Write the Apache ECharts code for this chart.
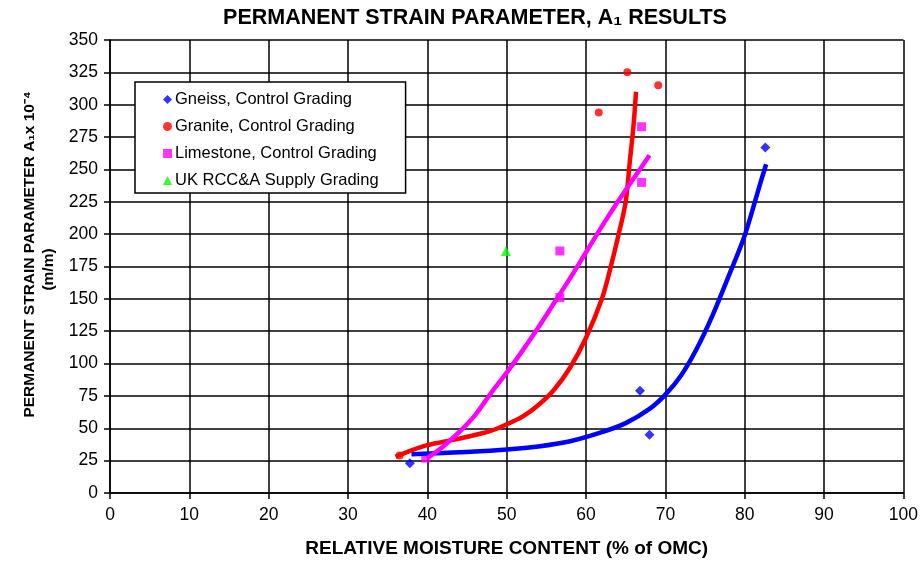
<!DOCTYPE html>
<html>
<head>
<meta charset="utf-8">
<script src="https://cdn.jsdelivr.net/npm/echarts@6/dist/echarts.min.js"></script>
<style>
html,body{margin:0;padding:0;background:#fff;}
#chart{width:921px;height:563px;}
</style>
</head>
<body>
<div id="chart"></div>
<script>
// ---- data ----
const seriesNames = ['Gneiss, Control Grading', 'Granite, Control Grading', 'Limestone, Control Grading', 'UK RCC&A Supply Grading'];

const gneissPoints = [[37.8, 23], [66.8, 79], [68.0, 45], [82.6, 267]];
const granitePoints = [[36.5, 29], [61.6, 294], [65.2, 325], [69.1, 315]];
const limestonePoints = [[39.8, 27], [56.7, 187], [56.7, 151], [67.0, 283], [67.0, 240]];
const ukPoints = [[49.9, 187]];

const gneissTrendX = [38, 42, 46, 50, 54, 58, 62, 65, 68, 70, 72, 74, 76, 78, 80, 82, 82.7];
const gneissTrendY = [30, 31, 32, 33.7, 36, 40, 47, 54, 65, 76, 91, 112, 138, 168, 199, 240, 254];

const graniteTrendX = [36, 38, 40, 44, 48, 50, 52, 54, 56, 58, 60, 62, 63, 64, 65, 65.5, 66, 66.3];
const graniteTrendY = [28, 33, 37, 42, 48, 53, 59, 68, 80, 97, 120, 150, 172, 197, 225, 255, 285, 310];

const limestoneTrendX = [40, 42, 44, 46, 48, 50, 52, 54, 56, 58, 60, 62, 64, 66, 68];
const limestoneTrendY = [27, 36, 47, 60, 77, 93, 110, 128, 147, 166, 186, 206, 225, 243, 261];

const xTicks = [0, 10, 20, 30, 40, 50, 60, 70, 80, 90, 100];
const yTicks = [0, 25, 50, 75, 100, 125, 150, 175, 200, 225, 250, 275, 300, 325, 350];

const colors = ['#0000ff', '#ff0000', '#ff00ff', '#00ff00'];

function zip(xs, ys) { return xs.map((x, i) => [x, ys[i]]); }

const chart = echarts.init(document.getElementById('chart'), null, {renderer: 'canvas'});
const font = "'Liberation Sans', Arial, sans-serif";

const option = {
  backgroundColor: '#fff',
  animation: false,
  textStyle: {fontFamily: font},
  title: {
    text: 'PERMANENT STRAIN PARAMETER, A\u2081 RESULTS',
    left: 470, top: 2, textAlign: 'center',
    textStyle: {fontFamily: font, fontSize: 21.5, fontWeight: 'bold', color: '#000'}
  },
  grid: {left: 110, right: 16, top: 40, bottom: 67, show: false},
  legend: {
    data: seriesNames.map((n, i) => ({
      name: n,
      icon: ['diamond', 'circle', 'rect', 'triangle'][i]
    })),
    orient: 'vertical',
    left: 135, top: 82,
    itemWidth: 9, itemHeight: 9, itemGap: 10,
    padding: [9, 27, 4, 28],
    backgroundColor: '#fff',
    borderColor: '#000', borderWidth: 1.5, borderRadius: 0,
    textStyle: {fontFamily: font, fontSize: 16.5, color: '#000', padding: [0, 0, 0, -2]}
  },
  xAxis: {
    type: 'value', min: 0, max: 100, interval: 10,
    name: 'RELATIVE MOISTURE CONTENT (% of OMC)',
    nameLocation: 'middle', nameGap: 46,
    nameTextStyle: {fontFamily: font, fontSize: 19, fontWeight: 'bold', color: '#000'},
    axisLine: {show: true, lineStyle: {color: '#000', width: 1.5}},
    axisTick: {show: true, inside: false, length: 6, lineStyle: {color: '#000', width: 1.5}},
    axisLabel: {fontFamily: font, fontSize: 17.5, color: '#000', margin: 13},
    splitLine: {show: true, lineStyle: {color: '#000', width: 1.5}}
  },
  yAxis: {
    type: 'value', min: 0, max: 350, interval: 25,
    name: '{a|PERMANENT STRAIN PARAMETER A\u2081x 10\u207B\u2074}\n{b|(m/m)}',
    nameLocation: 'middle', nameGap: 45, nameRotate: 90,
    nameTextStyle: {
      fontFamily: font, fontSize: 15.5, fontWeight: 'bold', color: '#000', lineHeight: 19, align: 'center',
      padding: [0, 0, 0, 24],
      rich: {
        a: {fontFamily: font, fontSize: 15.5, fontWeight: 'bold', color: '#000', lineHeight: 19},
        b: {fontFamily: font, fontSize: 15.5, fontWeight: 'bold', color: '#000', lineHeight: 19, padding: [0, 30, 0, 0]}
      }
    },
    axisLine: {show: true, lineStyle: {color: '#000', width: 1.5}},
    axisTick: {show: true, inside: false, length: 6, lineStyle: {color: '#000', width: 1.5}},
    axisLabel: {fontFamily: font, fontSize: 17.5, color: '#000', margin: 12},
    splitLine: {show: true, lineStyle: {color: '#000', width: 1.5}}
  },
  series: [
    {name: seriesNames[0], type: 'scatter', symbol: 'diamond', symbolSize: 10, itemStyle: {color: colors[0]}, data: gneissPoints, z: 3},
    {name: seriesNames[1], type: 'scatter', symbol: 'circle', symbolSize: 8, itemStyle: {color: colors[1]}, data: granitePoints, z: 3},
    {name: seriesNames[2], type: 'scatter', symbol: 'rect', symbolSize: 9, itemStyle: {color: colors[2]}, data: limestonePoints, z: 3},
    {name: seriesNames[3], type: 'scatter', symbol: 'triangle', symbolSize: 10, itemStyle: {color: colors[3]}, data: ukPoints, z: 3},
    {name: 'gneissTrend', type: 'line', data: zip(gneissTrendX, gneissTrendY), showSymbol: false, symbol: 'none', smooth: 0.3, lineStyle: {color: colors[0], width: 4.5}, z: 4, silent: true},
    {name: 'graniteTrend', type: 'line', data: zip(graniteTrendX, graniteTrendY), showSymbol: false, symbol: 'none', smooth: 0.3, lineStyle: {color: colors[1], width: 4.5}, z: 4, silent: true},
    {name: 'limestoneTrend', type: 'line', data: zip(limestoneTrendX, limestoneTrendY), showSymbol: false, symbol: 'none', smooth: 0.3, lineStyle: {color: colors[2], width: 4.5}, z: 4, silent: true}
  ]
};
chart.setOption(option);
</script>
</body>
</html>
